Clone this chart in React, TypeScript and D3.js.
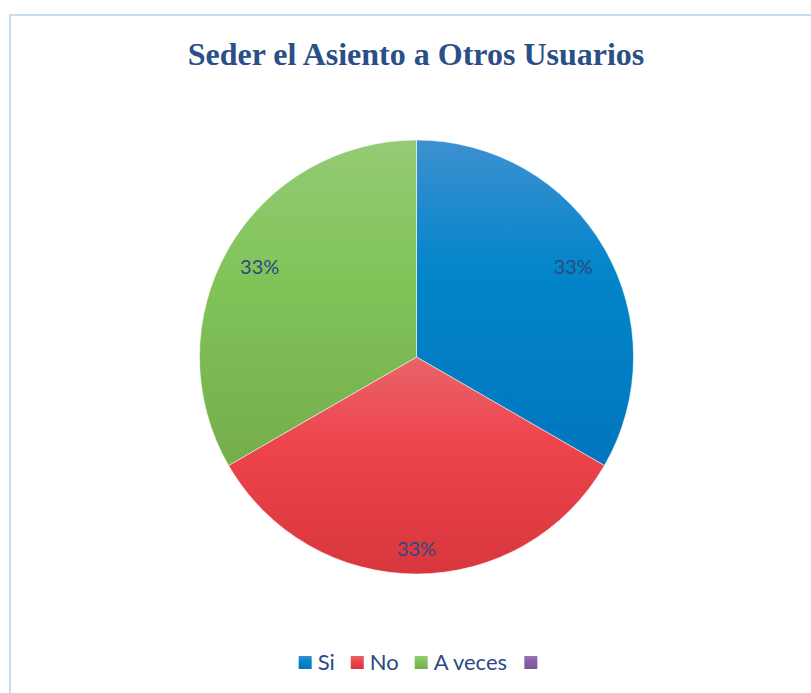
import React, { useMemo } from "react";
import * as d3 from "d3";

const categories = ["Si", "No", "A veces", ""];
const values = [33.3, 33.3, 33.3, 0];
const baseColors = ["#0385CA", "#EE444C", "#82C45A", "#8960A8"];
const topColors = ["#3D90D0", "#E9646A", "#94CB75", "#9A78B8"];
const bottomColors = ["#0076BE", "#D8363D", "#74AE4B", "#7A5599"];
const title = "Seder el Asiento a Otros Usuarios";

const W = 811;
const H = 693;
const cx = 416.5;
const cy = 357;
const R = 217;

function measure(text: string, font: string): number {
  if (typeof document === "undefined") return text.length * 10;
  const c = document.createElement("canvas");
  const ctx = c.getContext("2d");
  if (!ctx) return text.length * 10;
  ctx.font = font;
  return ctx.measureText(text).width;
}

export default function App() {
  const pie = d3
    .pie<number>()
    .sort(null)
    .startAngle(0)
    .endAngle(2 * Math.PI)
    .value((d) => d);
  const arcs = pie(values);
  const arcGen = d3.arc<d3.PieArcDatum<number>>().innerRadius(0).outerRadius(R);
  const total = d3.sum(values);

  const labelFontSize = 20;
  const labelFont = `${labelFontSize}px Lato`;
  const legendFontSize = 22;
  const legendFont = `${legendFontSize}px Lato`;

  const legend = useMemo(() => {
    const sq = 13;
    const gapText = 6;
    const gapItem = 16;
    const items = categories.map((c) => {
      const tw = c ? measure(c, legendFont) : 0;
      return { c, tw, w: sq + (c ? gapText + tw : 0) };
    });
    const totalW = d3.sum(items, (d) => d.w) + gapItem * (items.length - 1);
    let x = 418 - totalW / 2;
    return items.map((it, i) => {
      const r = { ...it, x, i };
      x += it.w + gapItem;
      return r;
    });
  }, []);

  const hw = 19;
  const hh = 12;
  const rin = R - 13.5;

  return (
    <svg
      width={W}
      height={H}
      style={{ position: "absolute", left: 0, top: 0, background: "#fff" }}
    >
      <defs>
        {categories.map((c, i) => (
          <linearGradient key={i} id={`g${i}`} x1="0" y1="0" x2="0" y2="1">
            <stop offset="0%" stopColor={topColors[i]} />
            <stop offset="40%" stopColor={baseColors[i]} />
            <stop offset="100%" stopColor={bottomColors[i]} />
          </linearGradient>
        ))}
      </defs>
      <rect x={10} y={15} width={900} height={800} fill="#fff" stroke="#C6DDF3" strokeWidth={2} />
      <text
        x={416}
        y={65}
        textAnchor="middle"
        fontFamily="'Liberation Serif', 'Times New Roman', serif"
        fontWeight="bold"
        fontSize={32}
        fill="#2A4F86"
      >
        {title}
      </text>
      <g transform={`translate(${cx},${cy})`}>
        {arcs.map((a, i) =>
          a.value > 0 ? (
            <path key={i} d={arcGen(a) || ""} fill={`url(#g${i})`} stroke="#fff" strokeWidth={0.5} />
          ) : null
        )}
        {arcs.map((a, i) => {
          if (a.value <= 0) return null;
          const mid = (a.startAngle + a.endAngle) / 2;
          const dx = Math.sin(mid);
          const dy = -Math.cos(mid);
          const t = rin - (Math.abs(dx) * hw + Math.abs(dy) * hh);
          const x = dx * t;
          const y = dy * t;
          const pct = `${Math.round((a.value / total) * 100)}%`;
          return (
            <text
              key={`l${i}`}
              x={x}
              y={y + labelFontSize * 0.36}
              textAnchor="middle"
              fontFamily="Lato"
              fontSize={labelFontSize}
              fill="#2B4A80"
            >
              {pct}
            </text>
          );
        })}
      </g>
      <g>
        {legend.map((it) => (
          <g key={it.i}>
            <rect x={it.x} y={656} width={13} height={13} fill={`url(#g${it.i})`} />
            {it.c ? (
              <text x={it.x + 13 + 6} y={670} fontFamily="Lato" fontSize={legendFontSize} fill="#2B4A80">
                {it.c}
              </text>
            ) : null}
          </g>
        ))}
      </g>
    </svg>
  );
}
